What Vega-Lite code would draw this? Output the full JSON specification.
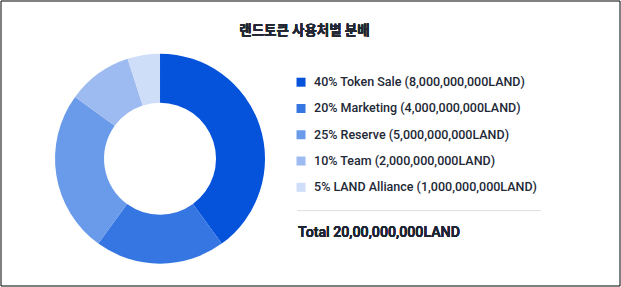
{
  "$schema": "https://vega.github.io/schema/vega-lite/v6.json",
  "width": 619,
  "height": 285,
  "padding": {"left": 0.5, "top": 0.5, "right": 1.5, "bottom": 1.5},
  "background": "#ffffff",
  "config": {
    "view": {"stroke": "#000000", "strokeWidth": 1},
    "axis": {"disable": true},
    "legend": {"disable": true}
  },
  "data": {
    "values": [
      {"rank": 1, "category": "Token Sale", "pct": 40, "amount": 8000000000, "label": "40% Token Sale (8,000,000,000LAND)"},
      {"rank": 2, "category": "Marketing", "pct": 20, "amount": 4000000000, "label": "20% Marketing (4,000,000,000LAND)"},
      {"rank": 3, "category": "Reserve", "pct": 25, "amount": 5000000000, "label": "25% Reserve (5,000,000,000LAND)"},
      {"rank": 4, "category": "Team", "pct": 10, "amount": 2000000000, "label": "10% Team (2,000,000,000LAND)"},
      {"rank": 5, "category": "LAND Alliance", "pct": 5, "amount": 1000000000, "label": "5% LAND Alliance (1,000,000,000LAND)"}
    ]
  },
  "resolve": {"scale": {"y": "independent", "x": "independent"}},
  "layer": [
    {
      "layer": [
        {
          "mark": {"type": "arc", "innerRadius": 56, "outerRadius": 105, "stroke": null},
          "encoding": {
            "theta": {"field": "amount", "type": "quantitative", "stack": true},
            "order": {"field": "rank", "type": "quantitative", "sort": "ascending"},
            "color": {
              "field": "category", "type": "nominal",
              "scale": {
                "domain": ["Token Sale", "Marketing", "Reserve", "Team", "LAND Alliance"],
                "range": ["#0552DB", "#3676E3", "#6A9BEA", "#9DBBF0", "#CEDDF8"]
              }
            },
            "x": {"datum": 25.77, "type": "quantitative", "scale": {"domain": [0, 100]}},
            "y": {"datum": 55.5, "type": "quantitative", "scale": {"domain": [100, 0]}}
          }
        },
        {
          "mark": {"type": "text", "font": "Noto Sans CJK KR", "fontWeight": "bold", "fontSize": 13.5, "color": "#222733", "baseline": "middle", "align": "center"},
          "encoding": {
            "text": {"value": "랜드토큰 사용처별 분배"},
            "x": {"datum": 49.1, "type": "quantitative"},
            "y": {"datum": 10.6, "type": "quantitative"}
          }
        },
        {
          "mark": {"type": "rule", "color": "#E3E3E3", "strokeWidth": 1},
          "encoding": {
            "x": {"datum": 47.9, "type": "quantitative"},
            "x2": {"datum": 87.3},
            "y": {"datum": 73.7, "type": "quantitative"}
          }
        },
        {
          "mark": {"type": "text", "font": "Roboto", "fontWeight": 500, "fontSize": 14.2, "color": "#1D2433", "baseline": "middle", "align": "left"},
          "encoding": {
            "text": {"value": "Total 20,00,000,000LAND"},
            "x": {"datum": 48.06, "type": "quantitative"},
            "y": {"datum": 81.6, "type": "quantitative"}
          }
        }
      ]
    },
    {
      "layer": [
        {
          "mark": {"type": "square", "size": 81, "opacity": 1, "filled": true},
          "encoding": {
            "y": {
              "field": "category", "type": "nominal",
              "sort": ["Token Sale", "Marketing", "Reserve", "Team", "LAND Alliance"],
              "scale": {"type": "point", "padding": 0, "range": [81.7, 186.8]}
            },
            "x": {"datum": 48.55, "type": "quantitative", "scale": {"domain": [0, 100]}},
            "color": {"field": "category", "type": "nominal"}
          }
        },
        {
          "mark": {"type": "text", "font": "Roboto", "fontWeight": 500, "fontSize": 12.5, "color": "#222836", "baseline": "middle", "align": "left"},
          "encoding": {
            "y": {
              "field": "category", "type": "nominal",
              "sort": ["Token Sale", "Marketing", "Reserve", "Team", "LAND Alliance"],
              "scale": {"type": "point", "padding": 0, "range": [81.7, 186.8]}
            },
            "x": {"datum": 50.65, "type": "quantitative"},
            "text": {"field": "label"}
          }
        }
      ]
    }
  ]
}
